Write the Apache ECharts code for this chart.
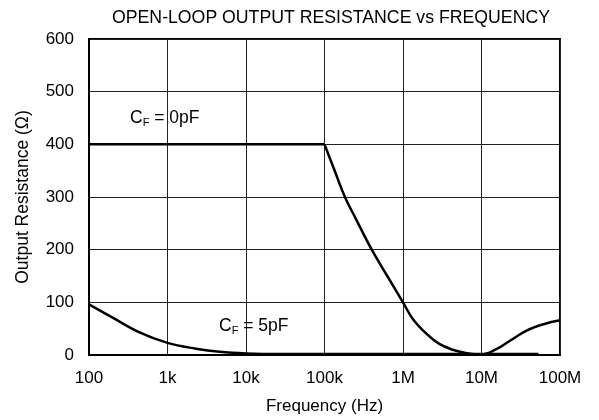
<!DOCTYPE html>
<html>
<head>
<meta charset="utf-8">
<script src="https://cdn.jsdelivr.net/npm/echarts@6/dist/echarts.min.js"></script>
<style>
  html, body { margin: 0; padding: 0; background: #fff; }
  #chart { width: 599px; height: 420px; }
</style>
</head>
<body>
<div id="chart"></div>
<script>
// frequency (Hz) and output resistance (ohm)
var freqCf0 = [100, 1e5, 1.3e5, 1.82e5, 2.5e5, 4e5, 6.3e5, 1e6, 1.34e6, 2e6, 2.9e6, 4.3e6, 6.3e6, 1e7, 1.5e7, 2.3e7, 3.7e7, 6e7, 1e8];
var resCf0 = [400, 400, 356, 300, 259, 200, 150, 100, 68, 40, 21, 10, 4, 1, 10, 27, 46, 58, 66];

var freqCf5 = [100, 200, 440, 1e3, 2.3e3, 4.6e3, 1e4, 3e4, 1e5, 1e6, 1e7, 5.3e7];
var resCf5 = [96, 71, 43, 23, 12, 6, 3, 2, 2, 2, 2, 2];

var xTickLabels = {100: '100', 1000: '1k', 10000: '10k', 100000: '100k', 1000000: '1M', 10000000: '10M', 100000000: '100M'};

function pairs(xs, ys) {
  return xs.map(function (x, i) { return [x, ys[i]]; });
}

// the 0pF curve has a sharp knee at 100k: flat part straight, roll-off smoothed
var cf0 = pairs(freqCf0, resCf0);
var knee = freqCf0.indexOf(1e5);

var chart = echarts.init(document.getElementById('chart'));
var font = 'Liberation Sans, Arial, sans-serif';
var lineStyle = { color: '#000', width: 2.5 };

chart.setOption({
  animation: false,
  title: {
    text: 'OPEN-LOOP OUTPUT RESISTANCE vs FREQUENCY',
    left: 326,
    top: 4,
    textAlign: 'center',
    textStyle: { fontFamily: font, fontSize: 17.7, fontWeight: 'normal', color: '#000' }
  },
  grid: {
    left: 89, right: 39, top: 39, bottom: 63,
    show: true, borderColor: '#000', borderWidth: 2
  },
  xAxis: {
    type: 'log',
    logBase: 10,
    min: 100,
    max: 1e8,
    name: 'Frequency (Hz)',
    nameLocation: 'middle',
    nameGap: 43,
    nameTextStyle: { fontFamily: font, fontSize: 17, color: '#000' },
    axisLine: { lineStyle: { color: '#000', width: 2 } },
    axisTick: { show: false },
    minorTick: { show: false },
    axisLabel: {
      fontFamily: font, fontSize: 17, color: '#000', margin: 15,
      formatter: function (v) { return xTickLabels[Math.round(v)] || ''; }
    },
    splitLine: { show: true, lineStyle: { color: '#222', width: 1 } }
  },
  yAxis: {
    type: 'value',
    min: 0,
    max: 600,
    interval: 100,
    name: 'Output Resistance (Ω)',
    nameLocation: 'middle',
    nameGap: 57,
    nameTextStyle: { fontFamily: font, fontSize: 17.5, color: '#000' },
    axisLine: { show: true, lineStyle: { color: '#000', width: 2 } },
    axisTick: { show: false },
    axisLabel: { fontFamily: font, fontSize: 17, color: '#000', margin: 15 },
    splitLine: { show: true, lineStyle: { color: '#222', width: 1 } }
  },
  series: [
    {
      name: 'CF = 0pF flat',
      type: 'line',
      data: cf0.slice(0, knee + 1),
      symbol: 'none',
      lineStyle: lineStyle
    },
    {
      name: 'CF = 0pF',
      type: 'line',
      data: cf0.slice(knee),
      smooth: 0.4,
      symbol: 'none',
      lineStyle: lineStyle
    },
    {
      name: 'CF = 5pF',
      type: 'line',
      data: pairs(freqCf5, resCf5),
      smooth: 0.4,
      symbol: 'none',
      lineStyle: lineStyle
    }
  ],
  graphic: [
    {
      type: 'text', left: 130, top: 109,
      style: {
        text: '{n|C}{s|F}{n| = 0pF}',
        fill: '#000',
        rich: {
          n: { fontFamily: font, fontSize: 17.5, fill: '#000' },
          s: { fontFamily: font, fontSize: 11, fill: '#000', padding: [9, 0, 0, 0] }
        }
      }
    },
    {
      type: 'text', left: 219, top: 316,
      style: {
        text: '{n|C}{s|F}{n| = 5pF}',
        fill: '#000',
        backgroundColor: '#fff',
        rich: {
          n: { fontFamily: font, fontSize: 17.5, fill: '#000' },
          s: { fontFamily: font, fontSize: 11, fill: '#000', padding: [9, 0, 0, 0] }
        }
      }
    }
  ]
});
</script>
</body>
</html>
